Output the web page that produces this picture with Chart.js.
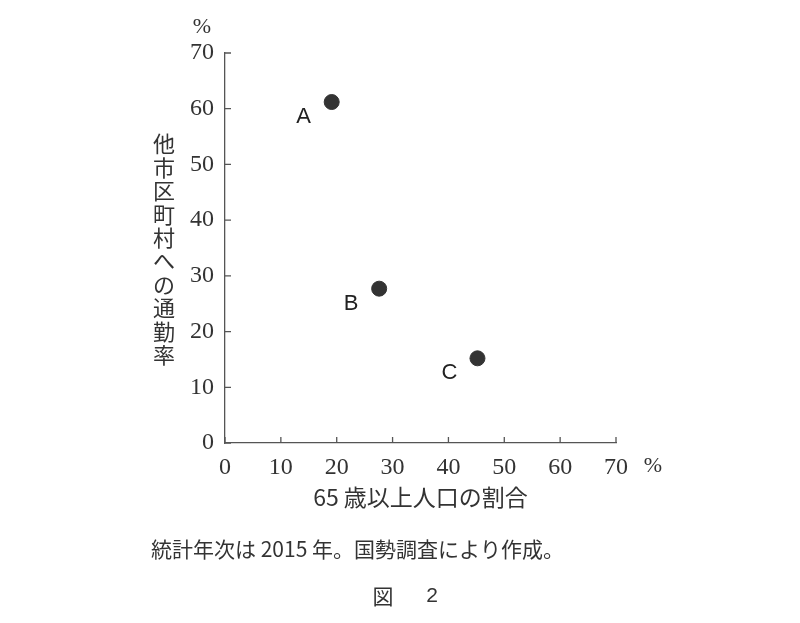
<!DOCTYPE html>
<html>
<head>
<meta charset="utf-8">
<script src="https://cdn.jsdelivr.net/npm/chart.js@4/dist/chart.umd.min.js"></script>
<style>
  html, body { margin: 0; padding: 0; background: #fff; }
  #wrap { width: 800px; height: 623px; }
</style>
</head>
<body>
<div id="wrap"><canvas id="myChart" width="800" height="623"></canvas></div>
<script>
// values
const regions = ['A', 'B', 'C'];
const elderlyShare = [19.1, 27.6, 45.2];   // 65歳以上人口の割合 (%)
const commuteRate = [61.2, 27.7, 15.2];    // 他市区町村への通勤率 (%)
const axisMin = 0;
const axisMax = 70;
const axisStep = 10;

const xTitle = '65 歳以上人口の割合';
const yTitle = '他市区町村への通勤率';
const note = '統計年次は 2015 年。国勢調査により作成。';

const ink = '#333';
const serif = '"Liberation Serif", "DejaVu Serif", serif';
const cjk = '"Noto Sans CJK JP", sans-serif';

// inward ticks, point letters and the extra captions
const extras = {
    id: 'extras',
    afterDraw(chart) {
        const ctx = chart.ctx;
        const area = chart.chartArea;
        const xs = chart.scales.x;
        const ys = chart.scales.y;
        ctx.save();
        ctx.strokeStyle = '#555';
        ctx.lineWidth = 1.3;
        for (let v = axisMin; v <= axisMax; v += axisStep) {
            const px = xs.getPixelForValue(v);
            const py = ys.getPixelForValue(v);
            ctx.beginPath();
            ctx.moveTo(px, area.bottom);
            ctx.lineTo(px, area.bottom - 6);
            ctx.moveTo(area.left, py);
            ctx.lineTo(area.left + 6, py);
            ctx.stroke();
        }

        // letters next to points
        ctx.fillStyle = '#222';
        ctx.font = '22px "Liberation Sans", Arial, sans-serif';
        ctx.textAlign = 'center';
        ctx.textBaseline = 'middle';
        chart.getDatasetMeta(0).data.forEach((pt, i) => {
            ctx.fillText(regions[i], pt.x - 28, pt.y + 15);
        });

        // % units
        ctx.fillStyle = ink;
        ctx.font = '22px ' + serif;
        ctx.fillText('%', area.left - 23, area.top - 26);
        ctx.fillText('%', area.right + 37, area.bottom + 23);

        // y title, stacked vertically
        ctx.font = '22px ' + cjk;
        Array.from(yTitle).forEach((c, i) => {
            ctx.fillText(c, 164, 144 + i * 23.4);
        });

        // x title
        ctx.font = '23px ' + cjk;
        ctx.fillText(xTitle, (area.left + area.right) / 2, area.bottom + 54);

        // source note and figure number
        ctx.font = '21px ' + cjk;
        ctx.textAlign = 'left';
        ctx.fillText(note, 151, 549);
        ctx.textAlign = 'center';
        ctx.font = '21px ' + cjk;
        ctx.fillText('図', 383, 596);
        ctx.font = '21px "Liberation Sans", Arial, sans-serif';
        ctx.fillText('2', 432, 596);
        ctx.restore();
    }
};

const ctx = document.getElementById('myChart').getContext('2d');
const myChart = new Chart(ctx, {
    type: 'scatter',
    data: {
        datasets: [{
            label: '通勤率',
            data: elderlyShare.map((x, i) => ({ x: x, y: commuteRate[i] })),
            backgroundColor: ink,
            borderColor: ink,
            pointRadius: 7.5,
            pointHoverRadius: 7.5
        }]
    },
    options: {
        responsive: false,
        animation: false,
        devicePixelRatio: 1,
        layout: { padding: { left: 0, top: 53, right: 184, bottom: 0 } },
        plugins: {
            legend: { display: false },
            tooltip: { enabled: false }
        },
        scales: {
            x: {
                type: 'linear',
                min: axisMin,
                max: axisMax,
                afterFit: (s) => { s.height = 180; },
                grid: { display: true, drawOnChartArea: false, drawTicks: false },
                border: { display: true, color: '#555', width: 1.3 },
                ticks: {
                    stepSize: axisStep,
                    padding: 10,
                    color: ink,
                    font: { family: serif, size: 24 },
                    maxRotation: 0
                }
            },
            y: {
                type: 'linear',
                min: axisMin,
                max: axisMax,
                afterFit: (s) => { s.width = 225; },
                grid: { display: true, drawOnChartArea: false, drawTicks: false },
                border: { display: true, color: '#555', width: 1.3 },
                ticks: {
                    stepSize: axisStep,
                    padding: 11,
                    color: ink,
                    font: { family: serif, size: 24 }
                }
            }
        }
    },
    plugins: [extras]
});
</script>
</body>
</html>
